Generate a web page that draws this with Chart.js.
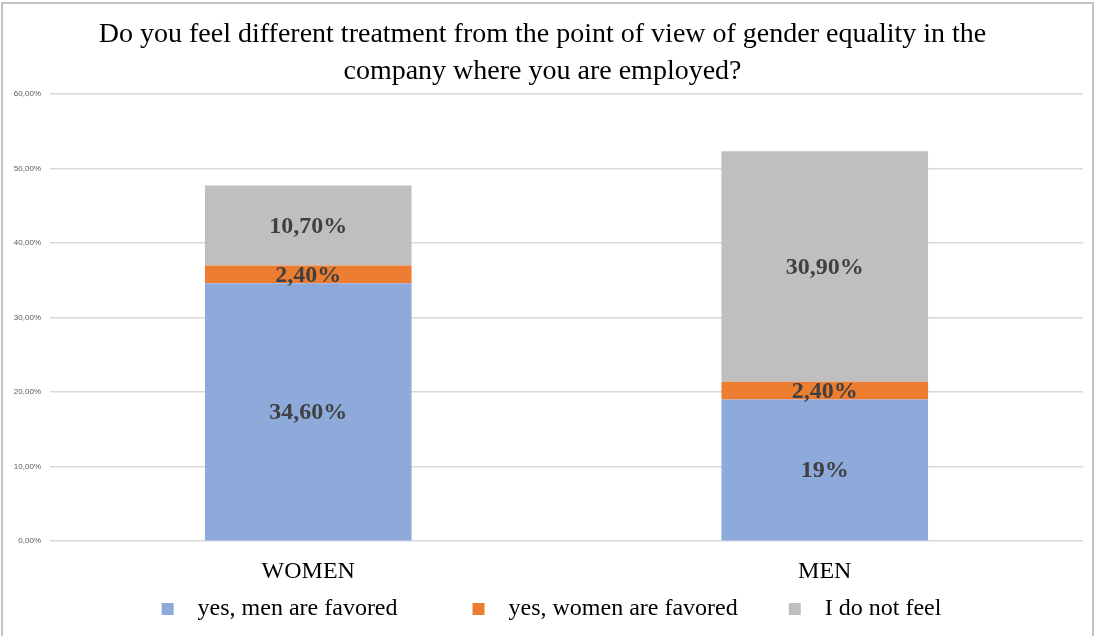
<!DOCTYPE html>
<html lang="en">

<head>
    <meta charset="UTF-8">
    <title>Gender equality</title>
    <script src="https://cdn.jsdelivr.net/npm/chart.js@4/dist/chart.umd.min.js"></script>
    <style>
        body { margin: 0; background: #fff; }
        #caixa {
            position: absolute; left: 1px; top: 2px; width: 1093px; height: 640px;
            border: 2px solid #c4c4c4; box-sizing: border-box;
        }
        #grafico { position: absolute; left: 0; top: 0; }
    </style>
</head>

<body>
    <div id="caixa"></div>
    <canvas id="grafico" width="1094" height="636"></canvas>

<script>
    // data
    var categorias = ['WOMEN', 'MEN']
    var series = ['yes, men are favored', 'yes, women are favored', 'I do not feel']
    var homens_favorecidos = [34.6, 19]
    var mulheres_favorecidas = [2.4, 2.4]
    var nao_sente = [10.7, 30.9]
    var rotulos_homens = ['34,60%', '19%']
    var rotulos_mulheres = ['2,40%', '2,40%']
    var rotulos_nao = ['10,70%', '30,90%']
    var cores = ['#8eaadb', '#ed7d31', '#bfbfbf']

    var serif = "'Liberation Serif', 'Times New Roman', serif"
    // extra spaces after each legend text, the legend slots are wide like in excel
    var espacos_legenda = ['            ', '        ', '     ']

    // draws the value labels in the middle of each segment
    var rotulosPlugin = {
        id: 'rotulos',
        afterDatasetsDraw: function (chart) {
            var ctx = chart.ctx
            ctx.save()
            ctx.font = 'bold 24px ' + serif
            ctx.fillStyle = '#404040'
            ctx.textAlign = 'center'
            ctx.textBaseline = 'middle'
            chart.data.datasets.forEach(function (ds, i) {
                var meta = chart.getDatasetMeta(i)
                meta.data.forEach(function (bar, j) {
                    var meio = (bar.y + bar.base) / 2
                    ctx.fillText(ds.rotulos[j], bar.x, meio + 1)
                })
            })
            ctx.restore()
        }
    }

    const config = {
        type: 'bar',
        data: {
            labels: categorias,
            datasets: [
                { label: series[0], data: homens_favorecidos, rotulos: rotulos_homens, backgroundColor: cores[0] },
                { label: series[1], data: mulheres_favorecidas, rotulos: rotulos_mulheres, backgroundColor: cores[1] },
                { label: series[2], data: nao_sente, rotulos: rotulos_nao, backgroundColor: cores[2] }
            ]
        },
        options: {
            responsive: false,
            animation: false,
            datasets: { bar: { categoryPercentage: 1, barPercentage: 0.4 } },
            layout: { padding: { left: 2, right: 11, top: 0, bottom: 5 } },
            scales: {
                x: {
                    stacked: true,
                    grid: { display: false },
                    border: { display: false },
                    ticks: { color: '#000', font: { family: serif, size: 24 }, padding: 8 }
                },
                y: {
                    stacked: true,
                    min: 0,
                    max: 60,
                    afterFit: function (scale) { scale.width = 48 },
                    border: { display: false },
                    grid: { color: '#d9d9d9', lineWidth: 1.5, drawTicks: false },
                    ticks: {
                        stepSize: 10,
                        padding: 9,
                        color: '#595959',
                        font: { family: "'Liberation Sans', sans-serif", size: 8 },
                        callback: function (v) { return v.toFixed(2).replace('.', ',') + '%' }
                    }
                }
            },
            plugins: {
                title: {
                    display: true,
                    text: ['Do you feel different treatment from the point of view of gender equality in the',
                        'company where you are employed?'],
                    color: '#000',
                    font: { family: serif, size: 28, weight: 'normal', lineHeight: 1.32 },
                    padding: { top: 16, bottom: 4 }
                },
                legend: {
                    position: 'bottom',
                    fullSize: false,
                    labels: {
                        color: '#000',
                        font: { family: serif, size: 24, lineHeight: 1 },
                        boxWidth: 12,
                        boxHeight: 12,
                        padding: 3,
                        generateLabels: function (chart) {
                            return chart.data.datasets.map(function (ds, i) {
                                return {
                                    text: '  ' + ds.label + espacos_legenda[i],
                                    fillStyle: ds.backgroundColor,
                                    strokeStyle: ds.backgroundColor,
                                    lineWidth: 0,
                                    datasetIndex: i
                                }
                            })
                        }
                    }
                },
                tooltip: { enabled: false }
            }
        },
        plugins: [rotulosPlugin]
    };

    const myChart = new Chart(document.getElementById('grafico'), config);
</script>
</body>

</html>
